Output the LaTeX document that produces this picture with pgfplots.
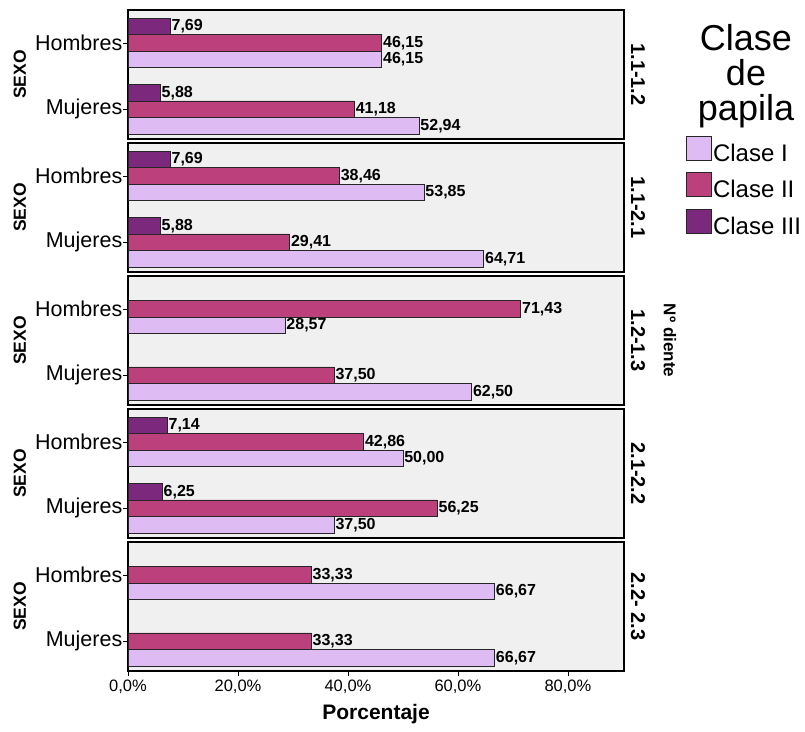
\documentclass[border=0pt]{standalone}
\usepackage{fontspec}
\setmainfont{Liberation Sans}
\usepackage{pgfplots}
\pgfplotsset{compat=1.18}

\definecolor{claseI}{RGB}{222,187,242}
\definecolor{claseII}{RGB}{188,64,124}
\definecolor{claseIII}{RGB}{124,40,124}
\definecolor{panelbg}{RGB}{240,240,240}

\newcommand\fs[1]{\fontsize{#1}{#1}\selectfont}

\pgfplotsset{
  panel/.style={
    xbar, scale only axis, width=496pt, height=129pt,
    anchor=south west,
    xmin=0, xmax=90.2, ymin=-0.45, ymax=1.5,
    ytick={0,1}, yticklabels={Mujeres,Hombres},
    xtick=\empty,
    bar width=16.5pt,
    axis background/.style={fill=panelbg},
    axis line style={black, line width=1.2pt},
    tick style={black, line width=0.8pt},
    tick align=outside, major tick length=5pt,
    xtick pos=bottom, ytick pos=left,
    yticklabel style={font=\fs{21.5}, inner xsep=0.5pt},
    ylabel={SEXO},
    ylabel style={font=\fs{17.5}\bfseries, at={(axis description cs:-0.218,0.5)}, anchor=center},
    nodes near coords, point meta=x,
    nodes near coords style={font=\fs{16}\bfseries, anchor=west, inner xsep=1pt, black},
    /pgf/number format/fixed,
    /pgf/number format/fixed zerofill,
    /pgf/number format/precision=2,
    /pgf/number format/use comma,
    /pgf/number format/assume math mode=true,
    clip=false,
  },
  legbox/.style={legend image code/.code={\draw[##1, line width=0.8pt] (0pt,-7pt) rectangle (25pt,17pt);}},
  cI/.style={draw=black!85, line width=0.7pt, fill=claseI, bar shift=-16.5pt, legbox},
  cII/.style={draw=black!85, line width=0.7pt, fill=claseII, bar shift=0pt, legbox},
  cIII/.style={draw=black!85, line width=0.7pt, fill=claseIII, bar shift=16.5pt, legbox},
}

\begin{document}
\begin{tikzpicture}

% 1.1-1.2
\begin{axis}[panel, at={(128pt,592pt)},
    legend style={at={(axis description cs:1.125,0.024)}, anchor=north west,
      draw=none, fill=none, inner sep=0pt, font=\fs{24}, row sep=9.5pt,
      nodes={inner xsep=1pt, inner ysep=0pt}},
    legend cell align=left]
  \addplot[cI] coordinates {(46.15,1) (52.94,0)};
  \addplot[cII] coordinates {(46.15,1) (41.18,0)};
  \addplot[cIII] coordinates {(7.69,1) (5.88,0)};
  \legend{Clase I, Clase II, Clase III}
  \node[rotate=-90, font=\fs{20}\bfseries] at (axis description cs:1.0282,0.5) {1.1-1.2};
\end{axis}

% 1.1-2.1
\begin{axis}[panel, at={(128pt,459pt)}]
  \addplot[cI] coordinates {(53.85,1) (64.71,0)};
  \addplot[cII] coordinates {(38.46,1) (29.41,0)};
  \addplot[cIII] coordinates {(7.69,1) (5.88,0)};
  \node[rotate=-90, font=\fs{20}\bfseries] at (axis description cs:1.0282,0.5) {1.1-2.1};
\end{axis}

% 1.2-1.3
\begin{axis}[panel, at={(128pt,326pt)}]
  \addplot[cI] coordinates {(28.57,1) (62.50,0)};
  \addplot[cII] coordinates {(71.43,1) (37.50,0)};
  \node[rotate=-90, font=\fs{20}\bfseries] at (axis description cs:1.0282,0.5) {1.2-1.3};
  \node[rotate=-90, font=\fs{17}\bfseries] at (axis description cs:1.0927,0.5) {Nº diente};
\end{axis}

% 2.1-2.2
\begin{axis}[panel, at={(128pt,193pt)}]
  \addplot[cI] coordinates {(50.00,1) (37.50,0)};
  \addplot[cII] coordinates {(42.86,1) (56.25,0)};
  \addplot[cIII] coordinates {(7.14,1) (6.25,0)};
  \node[rotate=-90, font=\fs{20}\bfseries] at (axis description cs:1.0282,0.5) {2.1-2.2};
\end{axis}

% 2.2-2.3
\begin{axis}[panel, at={(128pt,60pt)},
    xtick={0,20,40,60,80},
    xticklabels={{0,0\%},{20,0\%},{40,0\%},{60,0\%},{80,0\%}},
    xticklabel style={font=\fs{16.5}},
    xlabel={Porcentaje},
    xlabel style={font=\fs{21}\bfseries, at={(axis description cs:0.5,0)}, anchor=base, yshift=-48pt}]
  \addplot[cI] coordinates {(66.67,1) (66.67,0)};
  \addplot[cII] coordinates {(33.33,1) (33.33,0)};
  \node[rotate=-90, font=\fs{20}\bfseries] at (axis description cs:1.0282,0.5) {2.2- 2.3};
\end{axis}

% legend title
\node[align=center, font=\fontsize{36}{35}\selectfont, inner sep=0pt, anchor=north] at (746pt,707pt) {Clase\\de\\papila};

\pgfresetboundingbox
\path (0,0) rectangle (805pt,731pt);
\end{tikzpicture}
\end{document}
